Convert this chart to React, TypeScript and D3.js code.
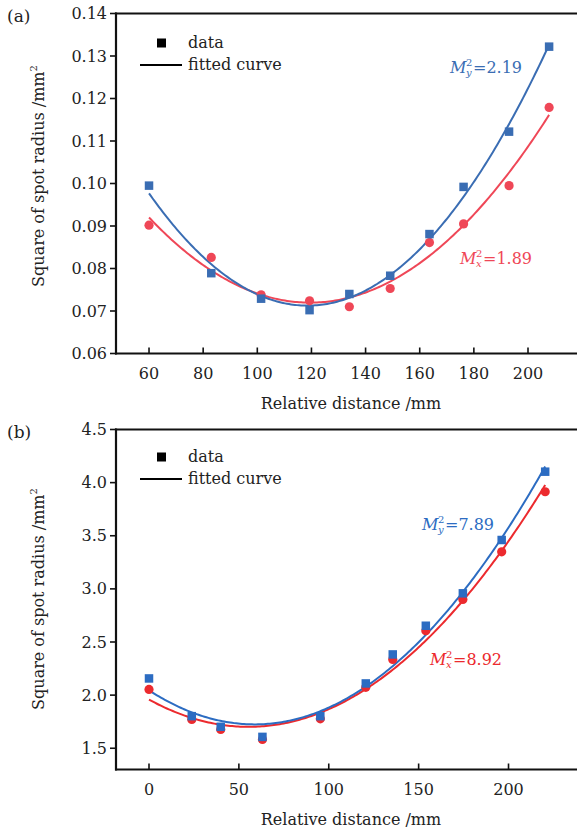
import React from "react";
import * as d3 from "d3";

// ---------- Data ----------
// Panel (a)
const aX = [60, 83, 101.4, 119.3, 134, 149.1, 163.6, 176.2, 193, 207.8];
const aBlueY = [0.0995, 0.0789, 0.0729, 0.0702, 0.0740, 0.0783, 0.0881, 0.0992, 0.1122, 0.1322];
const aRedY = [0.0902, 0.0826, 0.0738, 0.0724, 0.0710, 0.0753, 0.0861, 0.0905, 0.0995, 0.1179];
const aXTicks = [60, 80, 100, 120, 140, 160, 180, 200];
const aYTicks = [0.06, 0.07, 0.08, 0.09, 0.1, 0.11, 0.12, 0.13, 0.14];
const aYTickLabels = ["0.06", "0.07", "0.08", "0.09", "0.10", "0.11", "0.12", "0.13", "0.14"];
const aLabelY = "2.19";
const aLabelX = "1.89";

// Panel (b)
const bX = [0, 23.8, 39.9, 63.1, 95.3, 120.6, 135.6, 154, 174.6, 196.2, 220.4];
const bBlueY = [2.157, 1.802, 1.702, 1.607, 1.802, 2.11, 2.383, 2.653, 2.958, 3.46, 4.103];
const bRedY = [2.054, 1.771, 1.677, 1.583, 1.777, 2.073, 2.336, 2.606, 2.901, 3.349, 3.914];
const bXTicks = [0, 50, 100, 150, 200];
const bYTicks = [1.5, 2.0, 2.5, 3.0, 3.5, 4.0, 4.5];
const bYTickLabels = ["1.5", "2.0", "2.5", "3.0", "3.5", "4.0", "4.5"];
const bLabelY = "7.89";
const bLabelX = "8.92";

const FONT = "'DejaVu Serif', serif";

// least-squares quadratic fit
function quadFit(xs: number[], ys: number[]) {
  const n = xs.length;
  let s0 = n, s1 = 0, s2 = 0, s3 = 0, s4 = 0, t0 = 0, t1 = 0, t2 = 0;
  for (let i = 0; i < n; i++) {
    const x = xs[i], y = ys[i];
    s1 += x; s2 += x * x; s3 += x ** 3; s4 += x ** 4;
    t0 += y; t1 += x * y; t2 += x * x * y;
  }
  const M = [
    [s0, s1, s2, t0],
    [s1, s2, s3, t1],
    [s2, s3, s4, t2],
  ];
  for (let i = 0; i < 3; i++) {
    let p = i;
    for (let r = i + 1; r < 3; r++) if (Math.abs(M[r][i]) > Math.abs(M[p][i])) p = r;
    [M[i], M[p]] = [M[p], M[i]];
    for (let r = 0; r < 3; r++) {
      if (r === i) continue;
      const f = M[r][i] / M[i][i];
      for (let c = i; c < 4; c++) M[r][c] -= f * M[i][c];
    }
  }
  const c0 = M[0][3] / M[0][0], c1 = M[1][3] / M[1][1], c2 = M[2][3] / M[2][2];
  return (x: number) => c0 + c1 * x + c2 * x * x;
}

type PanelProps = {
  tag: string;
  xs: number[];
  blue: number[];
  red: number[];
  xDomain: [number, number];
  yDomain: [number, number];
  top: number;
  bottom: number;
  xTicks: number[];
  yTicks: number[];
  yTickLabels: string[];
  blueColor: string;
  redColor: string;
  curveRange: [number, number];
  legendY: number;
  annY: { x: number; y: number; text: string };
  annX: { x: number; y: number; text: string };
  yTitleY: number;
};

function MLabel({ x, y, sub, text, color }: { x: number; y: number; sub: string; text: string; color: string }) {
  return (
    <g fill={color} fontFamily={FONT}>
      <text x={x} y={y} fontSize={16} fontStyle="italic">M</text>
      <text x={x + 16} y={y - 7} fontSize={10}>2</text>
      <text x={x + 16} y={y + 3} fontSize={10} fontStyle="italic">{sub}</text>
      <text x={x + 23} y={y} fontSize={16}>={text}</text>
    </g>
  );
}

function Panel(p: PanelProps) {
  const left = 116;
  const right = 577;
  const x = d3.scaleLinear().domain(p.xDomain).range([left, right]);
  const y = d3.scaleLinear().domain(p.yDomain).range([p.bottom, p.top]);
  const fb = quadFit(p.xs, p.blue);
  const fr = quadFit(p.xs, p.red);
  const grid = d3.range(0, 201).map((i) => p.curveRange[0] + (i / 200) * (p.curveRange[1] - p.curveRange[0]));
  const line = d3
    .line<number>()
    .x((d) => x(d))
    .curve(d3.curveLinear);
  const blueLine = line.y((d) => y(fb(d)))(grid) || "";
  const redLine = line.y((d) => y(fr(d)))(grid) || "";
  const sq = 8.5;
  const midY = (p.top + p.bottom) / 2;
  return (
    <g fontFamily={FONT} fill="#222">
      <text x={7} y={p.top + 8} fontSize={17}>{p.tag}</text>
      {/* curves */}
      <path d={redLine} fill="none" stroke={p.redColor} strokeWidth={2} />
      <path d={blueLine} fill="none" stroke={p.blueColor} strokeWidth={2} />
      {p.xs.map((v, i) => (
        <circle key={"r" + i} cx={x(v)} cy={y(p.red[i])} r={4.6} fill={p.redColor} />
      ))}
      {p.xs.map((v, i) => (
        <rect key={"b" + i} x={x(v) - sq / 2} y={y(p.blue[i]) - sq / 2} width={sq} height={sq} fill={p.blueColor} />
      ))}
      {/* frame */}
      <line x1={left} x2={left} y1={p.top - 1} y2={p.bottom + 1} stroke="#111" strokeWidth={2.2} />
      <line x1={left - 1} x2={right + 2} y1={p.top} y2={p.top} stroke="#111" strokeWidth={2.2} />
      <line x1={left - 1} x2={right + 2} y1={p.bottom} y2={p.bottom} stroke="#111" strokeWidth={2.2} />
      {/* y ticks */}
      {p.yTicks.map((t, i) => (
        <g key={"yt" + i}>
          <line x1={left - 6} x2={left} y1={y(t)} y2={y(t)} stroke="#111" strokeWidth={1.6} />
          <text x={left - 9} y={y(t)} dy="0.35em" textAnchor="end" fontSize={16}>
            {p.yTickLabels[i]}
          </text>
        </g>
      ))}
      {/* x ticks */}
      {p.xTicks.map((t, i) => (
        <g key={"xt" + i}>
          <line x1={x(t)} x2={x(t)} y1={p.bottom - 6} y2={p.bottom} stroke="#111" strokeWidth={1.6} />
          <text x={x(t)} y={p.bottom + 25} textAnchor="middle" fontSize={16}>
            {t}
          </text>
        </g>
      ))}
      <text x={351} y={p.bottom + 55} textAnchor="middle" fontSize={16}>
        Relative distance /mm
      </text>
      <text transform={`translate(44,${p.yTitleY}) rotate(-90)`} textAnchor="middle" fontSize={16}>
        Square of spot radius /mm<tspan dy={-7} fontSize={10}>2</tspan>
      </text>
      {/* legend */}
      <rect x={157} y={p.legendY - 4.5} width={9} height={9} fill="#000" />
      <text x={188} y={p.legendY} dy="0.3em" fontSize={16}>data</text>
      <line x1={140} x2={182} y1={p.legendY + 22} y2={p.legendY + 22} stroke="#000" strokeWidth={2} />
      <text x={188} y={p.legendY + 22} dy="0.3em" fontSize={16}>fitted curve</text>
      <MLabel x={p.annY.x} y={p.annY.y} sub="y" text={p.annY.text} color={p.blueColor} />
      <MLabel x={p.annX.x} y={p.annX.y} sub="x" text={p.annX.text} color={p.redColor} />
    </g>
  );
}

export default function App() {
  return (
    <svg width={577} height={832} style={{ position: "absolute", left: 0, top: 0, background: "#fff" }}>
      <rect width={577} height={832} fill="#fff" />
      <Panel
        tag="(a)"
        xs={aX}
        blue={aBlueY}
        red={aRedY}
        xDomain={[47.8, 218.1]}
        yDomain={[0.06, 0.14]}
        top={13.5}
        bottom={353.5}
        xTicks={aXTicks}
        yTicks={aYTicks}
        yTickLabels={aYTickLabels}
        blueColor="#3a6db3"
        redColor="#ef4757"
        curveRange={[60, 207.8]}
        legendY={43}
        annY={{ x: 450, y: 73, text: aLabelY }}
        annX={{ x: 460, y: 264, text: aLabelX }}
        yTitleY={176}
      />
      <Panel
        tag="(b)"
        xs={bX}
        blue={bBlueY}
        red={bRedY}
        xDomain={[-18.36, 238.1]}
        yDomain={[1.3, 4.5]}
        top={429.5}
        bottom={769.5}
        xTicks={bXTicks}
        yTicks={bYTicks}
        yTickLabels={bYTickLabels}
        blueColor="#2c6cc2"
        redColor="#ec2a2e"
        curveRange={[0, 220.4]}
        legendY={457}
        annY={{ x: 422, y: 530, text: bLabelY }}
        annX={{ x: 430, y: 665, text: bLabelX }}
        yTitleY={599}
      />
    </svg>
  );
}
